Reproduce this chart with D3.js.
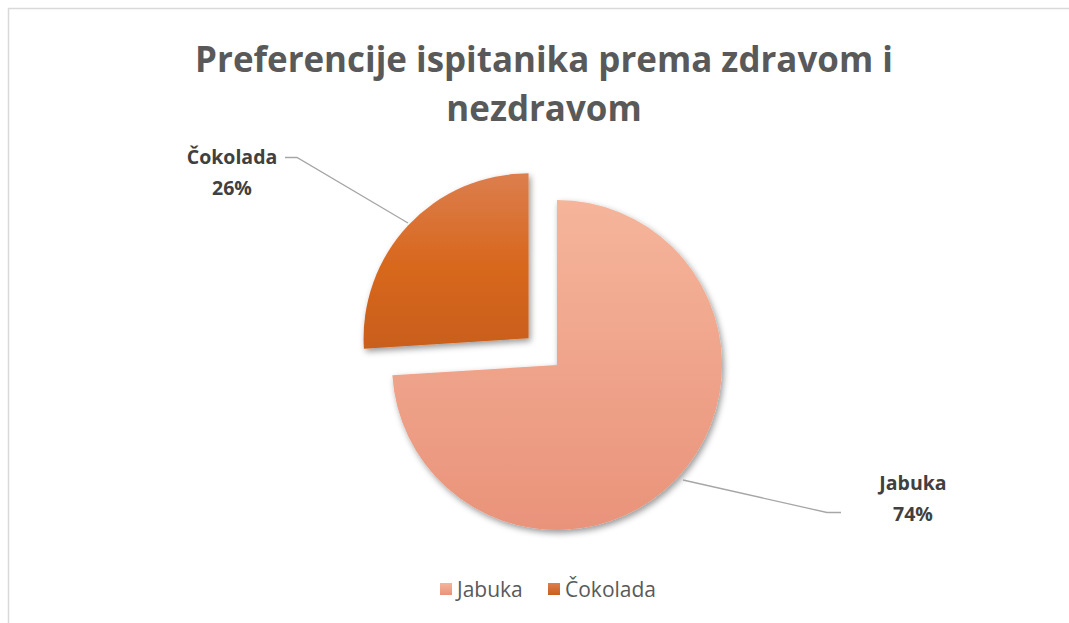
<!DOCTYPE html>
<html><head><meta charset="utf-8">
<script src="https://cdn.jsdelivr.net/npm/d3@7"></script>
<style>body{margin:0;background:#fff;} svg{display:block;}</style>
</head><body>
<svg id="c" width="1069" height="623"></svg>
<script>
const categories = ["Jabuka", "Čokolada"];
const values = [74, 26];
const labels = ["74%", "26%"];
const titleLines = ["Preferencije ispitanika prema zdravom i", "nezdravom"];

const svg = d3.select("#c");
const W = 1069, H = 623;
const font = "'Open Sans', 'Liberation Sans', sans-serif";

// chart frame
svg.append("rect").attr("x", 8.5).attr("y", 8.5).attr("width", W + 10).attr("height", H + 10)
  .attr("fill", "#fff").attr("stroke", "#d9d9d9").attr("stroke-width", 1.5);

const defs = svg.append("defs");
const grads = [
  {id: "g0", stops: [["0%", "#f5b59b"], ["100%", "#e9937a"]]},
  {id: "g1", stops: [["0%", "#dc7e4e"], ["50%", "#d8681f"], ["100%", "#c95f1b"]]}
];
grads.forEach(g => {
  const lg = defs.append("linearGradient").attr("id", g.id).attr("x1", 0).attr("y1", 0).attr("x2", 0).attr("y2", 1);
  g.stops.forEach(s => lg.append("stop").attr("offset", s[0]).attr("stop-color", s[1]));
});
const legendGrads = [
  {id: "lg0", stops: [["0%", "#f5b59b"], ["100%", "#e9937a"]]},
  {id: "lg1", stops: [["0%", "#dc7e4e"], ["100%", "#c95f1b"]]}
];
legendGrads.forEach(g => {
  const lg = defs.append("linearGradient").attr("id", g.id).attr("x1", 0).attr("y1", 0).attr("x2", 0).attr("y2", 1);
  g.stops.forEach(s => lg.append("stop").attr("offset", s[0]).attr("stop-color", s[1]));
});
const f = defs.append("filter").attr("id", "sh").attr("x", "-20%").attr("y", "-20%").attr("width", "140%").attr("height", "140%");
f.append("feDropShadow").attr("dx", 2).attr("dy", 3).attr("stdDeviation", 3).attr("flood-color", "#000").attr("flood-opacity", 0.4);

// title
const title = svg.append("g");
const titleY = [72, 121];
titleLines.forEach((t, i) => {
  title.append("text").attr("x", 544).attr("y", titleY[i]).attr("text-anchor", "middle")
    .attr("font-family", font).attr("font-weight", "bold").attr("font-size", 32)
    .attr("fill", "#595959").text(t);
});
const t0 = title.select("text").node();
const scaleT = 698 / t0.getComputedTextLength();
title.selectAll("text").attr("font-size", 32 * scaleT);

// pie
const cx = 557, cy = 365, R = 165, explode = 39;
const pie = d3.pie().sort(null).startAngle(0).endAngle(2 * Math.PI)(values);
const arc = d3.arc().innerRadius(0).outerRadius(R);
const gPie = svg.append("g").attr("transform", `translate(${cx},${cy})`);
pie.forEach((d, i) => {
  let dx = 0, dy = 0;
  if (i === 1) {
    const mid = (d.startAngle + d.endAngle) / 2;
    dx = explode * Math.sin(mid); dy = -explode * Math.cos(mid);
  }
  gPie.append("path").attr("d", arc(d)).attr("transform", `translate(${dx},${dy})`)
    .attr("fill", `url(#g${i})`).attr("filter", "url(#sh)");
});

// leader lines
const lineColor = "#a6a6a6";
const leaders = [
  [[683, 480], [827, 512.5], [841, 512.5]],
  [[408, 223], [297, 157.5], [285, 157.5]]
];
leaders.forEach(pts => {
  svg.append("path").attr("d", d3.line()(pts)).attr("fill", "none")
    .attr("stroke", lineColor).attr("stroke-width", 1.3);
});

// data labels
const labelPos = [[913, 490], [232, 164]];
categories.forEach((c, i) => {
  const g = svg.append("text").attr("text-anchor", "middle").attr("font-family", font)
    .attr("font-weight", "bold").attr("font-size", 19.5).attr("fill", "#404040");
  g.append("tspan").attr("x", labelPos[i][0]).attr("y", labelPos[i][1]).text(c);
  g.append("tspan").attr("x", labelPos[i][0]).attr("y", labelPos[i][1] + 31).text(labels[i]);
});

// legend
const legX = [440, 548];
categories.forEach((c, i) => {
  svg.append("rect").attr("x", legX[i]).attr("y", 583).attr("width", 12).attr("height", 12)
    .attr("fill", `url(#lg${i})`);
  svg.append("text").attr("x", legX[i] + 17).attr("y", 597).attr("font-family", font)
    .attr("font-size", 21).attr("fill", "#595959").text(c);
});
</script>
</body></html>
